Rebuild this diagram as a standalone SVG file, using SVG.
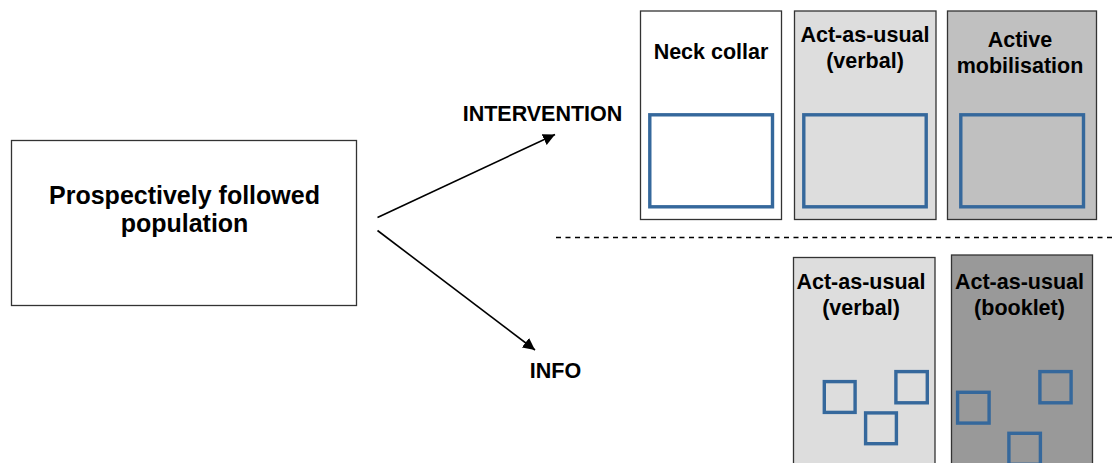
<svg xmlns="http://www.w3.org/2000/svg" width="1116" height="463" viewBox="0 0 1116 463">
<style>
text{font-family:"Liberation Sans",Arial,sans-serif;font-weight:bold;fill:#000;text-anchor:middle}
.box{stroke:#333;stroke-width:1.3}
.blue{fill:none;stroke:#35689c;stroke-width:3.4}
.lbl{font-size:21.5px}
</style>
<defs>
<marker id="ah" viewBox="0 0 10 10" refX="10" refY="5" markerWidth="12" markerHeight="12" markerUnits="userSpaceOnUse" orient="auto">
<path d="M0,0 L10,5 L0,10 Z" fill="#000"/>
</marker>
</defs>
<rect width="1116" height="463" fill="#fff"/>
<g id="population">
<rect class="box" x="11.5" y="140.5" width="345" height="165" fill="#fff"/>
<text x="184.5" y="204" style="font-size:25px">Prospectively followed</text>
<text x="184.5" y="232" style="font-size:25px">population</text>
</g>
<g id="connectors">
<line x1="377.5" y1="217.5" x2="555" y2="134.5" stroke="#000" stroke-width="1.6" marker-end="url(#ah)"/>
<line x1="377.5" y1="230.5" x2="535" y2="350" stroke="#000" stroke-width="1.6" marker-end="url(#ah)"/>
<line x1="556" y1="237.5" x2="1116" y2="237.5" stroke="#000" stroke-width="1.3" stroke-dasharray="5,4.5"/>
</g>
<g id="intervention-label"><text class="lbl" x="542.5" y="121">INTERVENTION</text></g>
<g id="info-label"><text class="lbl" x="555.5" y="378">INFO</text></g>
<g id="neck-collar">
<rect class="box" x="640.5" y="11" width="141" height="208.5" fill="#fff"/>
<text class="lbl" x="711" y="59">Neck collar</text>
<rect class="blue" x="649.8" y="114.8" width="122.7" height="92"/>
</g>
<g id="act-verbal-int">
<rect class="box" x="794.5" y="11" width="141.5" height="208.5" fill="#dddddd"/>
<text class="lbl" x="865" y="42">Act-as-usual</text>
<text class="lbl" x="865" y="67.5">(verbal)</text>
<rect class="blue" x="803.8" y="114.8" width="122.4" height="92"/>
</g>
<g id="active-mobilisation">
<rect class="box" x="947.5" y="11" width="149" height="208.5" fill="#c0c0c0"/>
<text class="lbl" x="1020" y="46.5">Active</text>
<text class="lbl" x="1020" y="73">mobilisation</text>
<rect class="blue" x="960.8" y="114.8" width="122.7" height="92"/>
</g>
<g id="act-verbal-info">
<rect class="box" x="793.5" y="257.5" width="141.5" height="215" fill="#dddddd"/>
<text class="lbl" x="861" y="288.5">Act-as-usual</text>
<text class="lbl" x="861" y="314.5">(verbal)</text>
<rect class="blue" x="824.3" y="381.6" width="30.8" height="30.8"/>
<rect class="blue" x="865.6" y="412.9" width="30.8" height="30.8"/>
<rect class="blue" x="895.9" y="371.6" width="31.4" height="31.2"/>
</g>
<g id="act-booklet-info">
<rect class="box" x="951.5" y="255" width="141" height="218" fill="#999999"/>
<text class="lbl" x="1019.5" y="288.5">Act-as-usual</text>
<text class="lbl" x="1019.5" y="314.5">(booklet)</text>
<rect class="blue" x="957.6" y="392.3" width="31.5" height="30.8"/>
<rect class="blue" x="1008.9" y="433.3" width="31.5" height="31"/>
<rect class="blue" x="1039.9" y="371.6" width="31.2" height="31.2"/>
</g>
</svg>
